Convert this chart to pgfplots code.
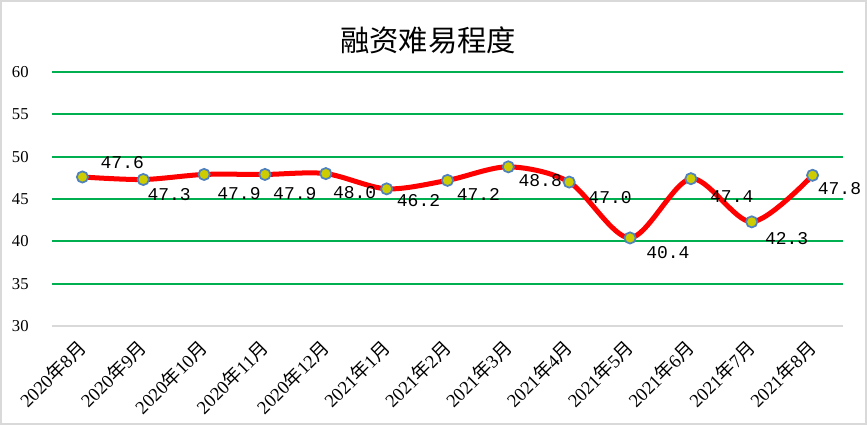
\documentclass[border=0pt]{standalone}
\usepackage{pgfplots}
\pgfplotsset{compat=1.18}
\usepackage{pgfplotstable}
\usepackage{fontspec}
\setmainfont{Liberation Serif}
\newfontfamily\cjk{Noto Sans CJK SC}
\newfontfamily\lblfont{Liberation Mono}
\definecolor{gridgreen}{RGB}{0,176,80}
\definecolor{framegray}{RGB}{217,217,217}
\definecolor{markfill}{RGB}{204,204,0}
\definecolor{markedge}{RGB}{79,129,189}

% x, value, label, dx (px right), dy (px up)
\pgfplotstableread{
x  y    lbl   dx  dy
0  47.6 47.6  18  8
1  47.3 47.3  4   -20.5
2  47.9 47.9  13  -25
3  47.9 47.9  8   -25
4  48.0 48.0  7   -25
5  46.2 46.2  10  -18
6  47.2 47.2  9   -20
7  48.8 48.8  10  -20
8  47.0 47.0  19  -21
9  40.4 40.4  16  -21
10 47.4 47.4  19  -24
11 42.3 42.3  13  -23
12 47.8 47.8  5   -19
}\rongzi

\newcommand{\ny}{{\cjk 年}}
\newcommand{\yu}{{\cjk 月}}

\begin{document}
\begin{tikzpicture}
\begin{axis}[
  name=main,
  scale only axis,
  width=593.25pt, height=190.5pt,
  xmin=-0.5, xmax=12.5,
  ymin=30, ymax=60,
  ytick={35,40,...,60},
  extra y ticks={30},
  extra y tick style={major grid style={draw=framegray, line width=1.5pt}},
  xtick={0,...,12},
  xticklabels={2020\ny8\yu,2020\ny9\yu,2020\ny10\yu,2020\ny11\yu,2020\ny12\yu,
    2021\ny1\yu,2021\ny2\yu,2021\ny3\yu,2021\ny4\yu,2021\ny5\yu,2021\ny6\yu,
    2021\ny7\yu,2021\ny8\yu},
  axis line style={draw=none},
  major tick length=0pt,
  ymajorgrids,
  major grid style={draw=gridgreen, line width=1.5pt},
  /pgf/number format/assume math mode=true,
  yticklabel style={font=\fontsize{12.5}{12.5}\selectfont, xshift=-14pt},
  xticklabel style={font=\fontsize{14}{14}\selectfont,
    anchor=north east, inner sep=0pt, xshift=-4.7pt, yshift=-9pt, rotate=45},
  clip=false,
]
\addplot[red, line width=3.75pt, smooth,
  mark=*, mark size=4.2pt,
  mark options={fill=markfill, draw=markedge, line width=1.3pt}]
  table[x=x, y=y] {\rongzi};
\addplot[draw=none, mark=none,
  visualization depends on={\thisrow{dx}\as\ldx},
  visualization depends on={\thisrow{dy}\as\ldy},
  nodes near coords,
  point meta=explicit symbolic,
  nodes near coords style={anchor=base west, inner sep=0pt,
    font=\lblfont\fontsize{13.5}{13.5}\selectfont, text=black,
    xshift=\ldx*0.75pt, yshift=\ldy*0.75pt}]
  table[x=x, y=y, meta=lbl] {\rongzi};
\end{axis}
\begin{scope}[shift={(main.south west)}, x=0.75pt, y=0.75pt]
  \draw[framegray, line width=1.5pt] (-51,-98) rectangle (814,325);
  \node[font=\cjk\fontsize{22}{22}\selectfont, anchor=center] at (376,286) {融资难易程度};
\end{scope}
\end{tikzpicture}
\end{document}
